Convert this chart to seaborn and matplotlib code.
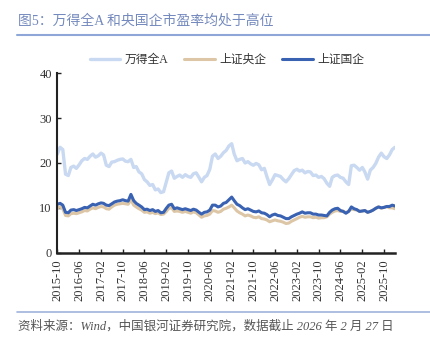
import numpy as np
import pandas as pd
import matplotlib
matplotlib.use("Agg")
import matplotlib.pyplot as plt
import seaborn as sns

# ---- data (monthly) ----
start_month = "2015-10-01"
wind_a = [22.0, 23.5, 23.0, 17.5, 17.2, 19.0, 19.3, 18.8, 19.6, 20.5, 21.0, 20.8, 21.5, 22.0, 21.3,
          21.6, 22.2, 21.8, 19.5, 19.2, 20.2, 20.3, 20.6, 20.8, 20.9, 20.4, 20.3,
          20.8, 19.0, 19.2, 18.0, 17.6, 16.3, 15.8, 15.0, 15.2, 14.0, 14.2, 13.4,
          13.6, 15.8, 17.8, 18.2, 16.6, 17.0, 17.3, 16.8, 17.4, 17.0, 16.8, 17.6,
          17.8, 16.8, 15.8, 16.8, 17.2, 18.6, 21.5, 22.0, 21.0, 21.5, 22.3, 22.8,
          23.8, 24.3, 22.0, 20.5, 20.8, 21.0, 20.0, 20.3, 19.8, 19.5, 19.9, 19.6,
          18.5, 18.8, 17.0, 15.2, 16.2, 17.4, 17.2, 17.0, 16.3, 15.8, 16.5, 17.4,
          18.3, 18.6, 18.2, 18.4, 17.8, 18.1, 18.0, 17.2, 17.3, 16.8, 17.0, 16.5,
          15.5, 14.8, 16.8, 17.2, 17.3, 16.8, 16.6, 15.8, 15.2, 19.4, 19.5, 19.0,
          18.4, 19.0, 18.0, 16.4, 18.4, 19.0, 19.9, 21.3, 22.2, 21.4, 21.0, 21.8,
          23.0, 23.5]
sse_central = [10.0, 10.2, 9.8, 8.3, 8.2, 8.7, 8.8, 8.7, 8.9, 9.1, 9.4, 9.3, 9.7, 10.0, 9.8,
               10.1, 10.3, 10.2, 9.8, 9.7, 10.2, 10.6, 10.8, 10.9, 11.0, 10.9, 10.8,
               11.8, 10.6, 10.2, 9.8, 9.5, 9.0, 9.1, 8.8, 9.0, 8.7, 8.9, 8.5,
               8.6, 9.2, 9.9, 10.0, 9.2, 9.3, 9.2, 9.0, 9.2, 9.0, 8.8, 9.1,
               8.9, 8.4, 7.9, 8.2, 8.3, 8.6, 9.4, 9.3, 9.0, 9.2, 9.7, 9.9,
               10.2, 10.6, 10.0, 9.3, 8.9, 8.6, 8.2, 8.4, 8.2, 7.9, 7.8, 8.0,
               7.6, 7.5, 7.3, 6.9, 7.1, 7.3, 7.1, 7.0, 6.8, 6.5, 6.6, 7.0,
               7.3, 7.6, 7.9, 8.1, 7.9, 8.0, 8.0, 7.8, 7.9, 7.7, 7.8, 7.8,
               8.0, 8.6, 9.0, 9.3, 9.4, 9.2, 9.3, 8.9, 9.3, 9.7, 9.6, 9.5,
               9.2, 9.3, 9.4, 9.0, 9.2, 9.5, 9.9, 10.2, 9.9, 10.1, 10.3, 10.0,
               10.0, 9.8]
sse_soe = [10.8, 11.0, 10.6, 9.0, 8.9, 9.5, 9.6, 9.4, 9.6, 9.8, 10.1, 10.0, 10.4, 10.8, 10.6,
           10.9, 11.1, 11.0, 10.6, 10.5, 10.9, 11.3, 11.5, 11.6, 11.8, 11.6, 11.5,
           13.0, 11.6, 11.0, 10.6, 10.2, 9.6, 9.7, 9.4, 9.6, 9.2, 9.4, 8.9,
           9.0, 9.9, 10.6, 10.8, 9.8, 10.0, 9.8, 9.6, 9.8, 9.6, 9.4, 9.7,
           9.5, 9.0, 8.6, 9.0, 9.1, 9.5, 10.6, 10.6, 10.2, 10.4, 11.0, 11.2,
           11.8, 12.4, 11.6, 10.8, 10.5, 10.0, 9.6, 9.8, 9.5, 9.2, 9.1, 9.3,
           8.9, 8.8, 8.5, 8.0, 8.4, 8.6, 8.3, 8.2, 7.9, 7.6, 7.6, 8.0,
           8.3, 8.6, 8.8, 9.1, 8.8, 8.9, 8.9, 8.6, 8.6, 8.4, 8.4, 8.3,
           8.2, 9.0, 9.5, 9.8, 9.9, 9.4, 9.2, 8.8, 9.2, 10.2, 9.8, 9.6,
           9.2, 9.3, 9.4, 9.0, 9.2, 9.5, 9.9, 10.2, 10.0, 10.1, 10.3, 10.3,
           10.6, 10.4]
series_names = ["万得全A", "上证央企", "上证国企"]
y_ticks = [0, 10, 20, 30, 40]
title_text = "图5：万得全A 和央国企市盈率均处于高位"
source_text = "资料来源：Wind，中国银河证券研究院，数据截止 2026 年 2 月 27 日"

dates = pd.date_range(start_month, periods=len(wind_a), freq="MS")
df = pd.DataFrame({
    "date": np.tile(dates, 3),
    "value": wind_a + sse_central + sse_soe,
    "series": np.repeat(series_names, len(dates)),
})

sns.set_theme(style="white")
plt.rcParams["font.family"] = ["Liberation Serif", "Noto Sans CJK SC", "DejaVu Sans"]

fig = plt.figure(figsize=(4.30, 3.47), dpi=100)
ax = fig.add_axes([0.1333, 0.2718, 0.7853, 0.517])

palette = {"万得全A": "#c9d9f1", "上证央企": "#dcc6a6", "上证国企": "#3a62b2"}
widths = {"万得全A": 2.4, "上证央企": 2.2, "上证国企": 2.2}
for name in series_names:
    sub = df[df["series"] == name]
    sns.lineplot(data=sub, x="date", y="value", ax=ax, color=palette[name],
                 linewidth=widths[name], label=name)

ax.set_xlim(dates[0], dates[-1])
ax.set_ylim(0, 40)
ax.set_yticks(y_ticks)
ax.set_xlabel("")
ax.set_ylabel("")

tick_dates = pd.date_range("2015-10-01", "2025-10-01", freq="8MS")
ax.set_xticks(tick_dates)
ax.set_xticklabels([d.strftime("%Y-%m") for d in tick_dates], rotation=90)
ax.tick_params(axis="both", direction="in", length=3, width=1, colors="#222222",
               labelsize=9, labelcolor="#333333", bottom=True, left=True, pad=4)
ax.tick_params(axis="x", pad=5)

for s in ["top", "right"]:
    ax.spines[s].set_visible(False)
ax.spines["left"].set_color("#222222")
ax.spines["left"].set_linewidth(1.5)
ax.spines["bottom"].set_color("#222222")
ax.spines["bottom"].set_linewidth(1.8)
ax.grid(False)

ax.legend(loc="center", bbox_to_anchor=(227 / 430, 1 - 60 / 347), bbox_transform=fig.transFigure,
          ncol=3, frameon=False, fontsize=8.5, handlelength=2.6, columnspacing=1.3,
          handletextpad=0.4, labelcolor="#333333")

fig.text(18 / 430, 1 - 25 / 347, title_text, fontsize=10, color="#7489bd",
         ha="left", va="baseline")
fig.add_artist(plt.Line2D([17 / 430, 1.0], [1 - 35 / 347] * 2, color="#8ea7d8",
                          linewidth=1.5, transform=fig.transFigure))
fig.add_artist(plt.Line2D([17 / 430, 1.0], [1 - 312 / 347] * 2, color="#9fb3dc",
                          linewidth=1.2, transform=fig.transFigure))
fig.text(18 / 430, 1 - 330 / 347, source_text, fontsize=9, color="#555555",
         style="italic", ha="left", va="baseline")

fig.savefig("out.png", dpi=100)
